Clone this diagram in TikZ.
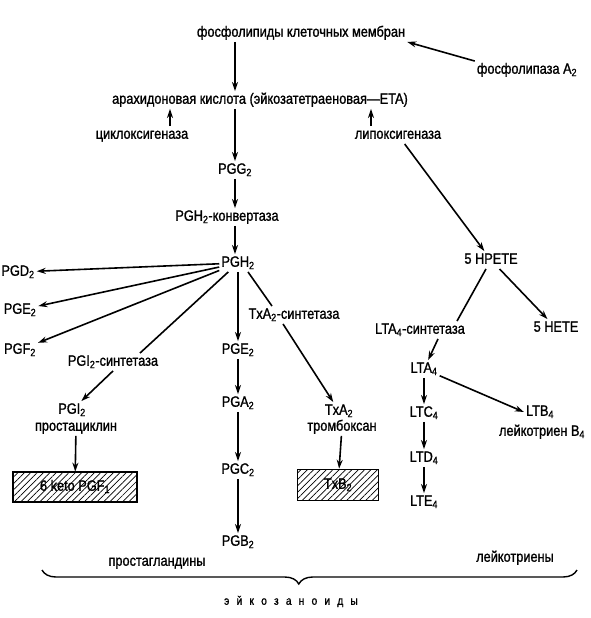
\documentclass[tikz,border=0pt]{standalone}
\usepackage{fontspec}
\setmainfont{Liberation Sans}[FakeStretch=0.85,FakeBold=1.2]
\usetikzlibrary{arrows.meta,patterns.meta,decorations.pathreplacing}

\begin{document}
\begin{tikzpicture}[x=1pt,y=-1pt,every node/.style={font=\fontsize{15}{17}\selectfont,inner sep=2pt,text height=10.5pt,text depth=3pt},arr/.style={line width=1.6pt,-{Stealth[length=9pt,width=6pt]}},ln/.style={line width=1.6pt},hbox/.style={draw,line width=1.6pt,pattern={Lines[angle=45,distance=4.5pt,line width=0.7pt]},inner sep=0pt}]
\useasboundingbox (0,0) rectangle (590,618);
\node (mem) at (301,33) {фосфолипиды клеточных мембран};
\node (pla) at (527,70) {фосфолипаза A\textsubscript{2}};
\node (ara) at (260,100) {арахидоновая кислота (эйкозатетраеновая—ETA)};
\node (cyc) at (142,135) {циклоксигеназа};
\node (lip) at (398,135) {липоксигеназа};
\node (pgg) at (235,170) {PGG\textsubscript{2}};
\node (conv) at (227,217) {PGH\textsubscript{2}-конвертаза};
\node (pgh) at (238,263) {PGH\textsubscript{2}};
\node (pgd) at (18,272) {PGD\textsubscript{2}};
\node (pgea) at (20,310) {PGE\textsubscript{2}};
\node (pgf) at (20,350) {PGF\textsubscript{2}};
\node (pgis) at (113,362) {PGI\textsubscript{2}-синтетаза};
\node (pgi) at (72,410) {PGI\textsubscript{2}};
\node (prc) at (76,427) {простациклин};
\node[hbox,minimum width=124pt,minimum height=30pt] (keto) at (75,487) {6 keto PGF\textsubscript{1}};
\node (pgeb) at (238,350) {PGE\textsubscript{2}};
\node (pga) at (238,403) {PGA\textsubscript{2}};
\node (pgc) at (238,470) {PGC\textsubscript{2}};
\node (pgb) at (238,542) {PGB\textsubscript{2}};
\node (txs) at (294,315) {TxA\textsubscript{2}-синтетаза};
\node (txa) at (339,411) {TxA\textsubscript{2}};
\node (trb) at (342,427) {тромбоксан};
\node[hbox,minimum width=81pt,minimum height=31pt] (txb) at (338,485) {TxB\textsubscript{2}};
\node (hpete) at (491,260) {5 HPETE};
\node (ltas) at (420,330) {LTA\textsubscript{4}-синтетаза};
\node (hete) at (556,328) {5 HETE};
\node (lta) at (424,369) {LTA\textsubscript{4}};
\node (ltc) at (424,413) {LTC\textsubscript{4}};
\node (ltd) at (424,458) {LTD\textsubscript{4}};
\node (lte) at (424,502) {LTE\textsubscript{4}};
\node (ltb) at (540,412) {LTB\textsubscript{4}};
\node (ltbc) at (542,432) {лейкотриен B\textsubscript{4}};
\node (pgl) at (157,562) {простагландины};
\node (ltl) at (515,558) {лейкотриены};
\node[font=\fontsize{12}{14}\selectfont\addfontfeature{LetterSpace=60}] (eic) at (291,601) {эйкозаноиды};
\draw[arr] (pla.north west) -- (mem.south east);
\draw[arr] (mem.south -| pgg) -- (ara.north -| pgg);
\draw[arr] (ara.south -| pgg) -- (pgg);
\draw[arr] ([xshift=28pt]cyc.north) -- ([xshift=28pt]cyc.north |- ara.south);
\draw[arr] ([xshift=-27pt]lip.north) -- ([xshift=-27pt]lip.north |- ara.south);
\draw[arr] (lip) -- (hpete);
\draw[arr] (pgg) -- (pgg |- conv.north);
\draw[arr] (pgg |- conv.south) -- (pgh.north -| pgg);
\draw[arr] (pgh) -- (pgd);
\draw[arr] (pgh) -- (pgea);
\draw[arr] (pgh) -- (pgf);
\draw[ln] (pgh) -- ([xshift=27pt]pgis.north);
\draw[arr] (pgis.south) -- (pgi);
\draw[arr] (prc) -- (keto);
\draw[arr] (pgh) -- (pgeb);
\draw[arr] (pgeb) -- (pga);
\draw[arr] (pga) -- (pgc);
\draw[arr] (pgc) -- (pgb);
\draw[ln] ([xshift=10pt]pgh.south) -- ([xshift=-22pt]txs.north);
\draw[arr] ([xshift=-11pt]txs.south) -- (txa);
\draw[arr] (trb) -- (txb);
\draw[ln] (hpete) -- ([xshift=37pt]ltas.north);
\draw[arr] ([xshift=18pt]ltas.south) -- (lta);
\draw[arr] (hpete) -- (hete);
\draw[arr] (lta) -- (ltc);
\draw[arr] (ltc) -- (ltd);
\draw[arr] (ltd) -- (lte);
\draw[arr] (lta) -- (ltb.west);
\draw[line width=1.4pt,decorate,decoration={brace,mirror,amplitude=14pt,aspect=0.48}] (42,570) -- (577,570);
\end{tikzpicture}
\end{document}
